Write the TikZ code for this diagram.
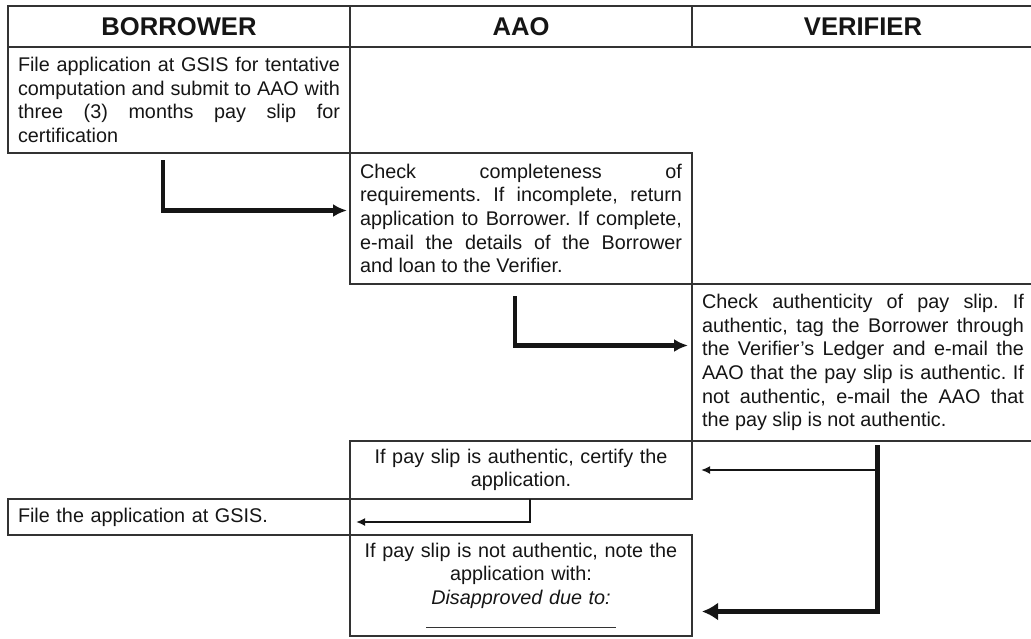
\documentclass[tikz,border=0pt]{standalone}
\usepackage{fontspec}
\setmainfont{Liberation Sans}
\usepackage{xcolor}
\usepackage{tikz}
\usetikzlibrary{arrows.meta, calc, positioning}
\definecolor{linegray}{HTML}{333333}
\definecolor{ink}{HTML}{151515}
\tikzset{
	cell/.style={draw=linegray, line width=1.5pt, text=ink, inner xsep=10pt, inner ysep=0pt, outer sep=0pt, text width=322pt},
	lane/.style={cell, line width=2pt, minimum height=41pt, align=center, font=\fontsize{25.6pt}{30pt}\selectfont\bfseries}
}
\newcommand{\bodysize}{\fontsize{19.8pt}{23.6pt}\selectfont}
\hbadness=10000
\frenchspacing

\begin{document}
\begin{tikzpicture}[
	x=1pt, y=1pt,
	node distance=0pt,
	body/.style={cell, font=\bodysize, align=justify},
	flow/.style={draw=ink, line width=4.2pt, -{Latex[length=14pt,width=13pt]}},
	flowbig/.style={draw=ink, line width=5pt, -{Latex[length=16pt,width=18pt]}},
	flowthin/.style={draw=ink, line width=2.4pt, -{Latex[length=9pt,width=8pt]}}]
	\useasboundingbox (0,0) rectangle (1031,-638);
	\node[lane, anchor=north west] (hdrB) at (8,-6) {BORROWER};
	\node[lane, right=of hdrB] (hdrA) {AAO};
	\node[lane, right=of hdrA] (hdrV) {VERIFIER};
	\node[body, minimum height=106pt, below=of hdrB] (stepB1) {File application at GSIS for tentative\linebreak computation and submit to AAO with\linebreak three (3) months pay slip for\linebreak certification};
	\node[body, minimum height=131pt, below right=of stepB1] (stepA1) {Check completeness of\linebreak requirements. If incomplete, return\linebreak application to Borrower. If complete,\linebreak e-mail the details of the Borrower\linebreak and loan to the Verifier.};
	\node[body, minimum height=157pt, below right=of stepA1] (stepV1) {Check authenticity of pay slip. If\linebreak authentic, tag the Borrower through\linebreak the Verifier's Ledger and e-mail the\linebreak AAO that the pay slip is authentic. If\linebreak not authentic, e-mail the AAO that\linebreak the pay slip is not authentic.};
	\node[body, minimum height=58pt, align=center, below left=of stepV1] (stepA2) {If pay slip is authentic, certify the\\ application.};
	\node[body, minimum height=36pt, align=left, below left=of stepA2] (stepB2) {File the application at GSIS.};
	\node[body, minimum height=101pt, align=center, below right=of stepB2] (stepA3) {If pay slip is not authentic, note the\\ application with:\\ \textit{Disapproved due to:}\\ \textcolor{linegray}{\rule{190pt}{1.2pt}}};
	\draw[flow] ([xshift=-16pt,yshift=-7pt]stepB1.south) |- ([xshift=-3pt,yshift=8pt]stepA1.west);
	\draw[flow] ([xshift=-6pt,yshift=-12pt]stepA1.south) |- ([xshift=-4pt,yshift=17pt]stepV1.west);
	\coordinate (vtop) at ([xshift=14pt,yshift=-4pt]stepV1.south);
	\draw[flowbig] (vtop) |- ([xshift=10pt,yshift=-26pt]stepA3.east);
	\draw[flowthin] (vtop |- stepA2.east) -- ([xshift=9pt]stepA2.east);
	\draw[flowthin] ([xshift=9pt]stepA2.south) |- ([xshift=6pt,yshift=-5pt]stepB2.east);
\end{tikzpicture}
\end{document}
